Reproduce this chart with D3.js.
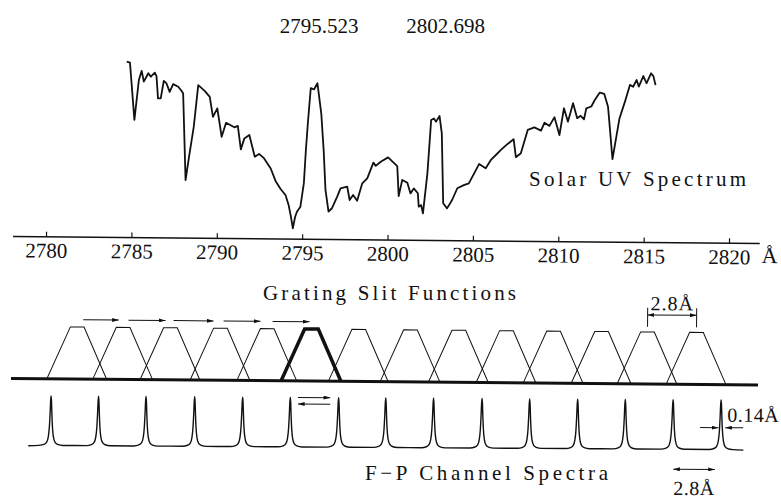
<!DOCTYPE html>
<html>
<head>
<meta charset="utf-8">
<script src="https://cdn.jsdelivr.net/npm/d3@7"></script>
<style>
body { margin: 0; background: #fff; }
text { font-family: "Liberation Serif", "Times New Roman", serif; fill: #111; }
</style>
</head>
<body>
<script>
var w = 781;
var h = 498;

// Solar UV spectrum (wavelength in Angstrom, relative flux)
var specWave = [2784.63,2784.82,2785.11,2785.35,2785.51,2785.64,2785.90,2786.05,2786.28,2786.38,2786.48,2786.64,2786.81,2786.97,2787.16,2787.36,2787.66,2787.85,2787.95,2788.14,
  2788.33,2788.59,2788.83,2789.21,2789.51,2789.71,2789.96,2790.23,2790.48,2790.97,2791.17,2791.36,2791.56,2791.85,2792.18,2792.43,2792.73,2793.12,2793.41,2793.71,
  2794.00,2794.19,2794.33,2794.45,2794.58,2794.68,2794.88,2795.07,2795.17,2795.27,2795.42,2795.62,2795.81,2796.05,2796.21,2796.34,2796.53,2796.73,2797.03,2797.22,
  2797.61,2797.76,2797.96,2798.20,2798.49,2798.78,2799.13,2799.27,2799.56,2799.99,2800.53,2800.63,2800.83,2801.13,2801.32,2801.51,2801.75,2801.81,2801.95,2802.06,
  2802.30,2802.49,2802.65,2802.78,2802.98,2803.12,2803.24,2803.47,2803.76,2804.06,2804.44,2804.73,2805.32,2805.71,2806.01,2806.30,2806.59,2806.98,2807.33,2807.47,
  2807.76,2808.15,2808.54,2808.93,2809.13,2809.42,2809.71,2810.01,2810.26,2810.50,2810.79,2811.04,2811.24,2811.44,2811.57,2811.86,2812.06,2812.35,2812.61,2812.84,
  2813.13,2813.52,2813.81,2814.11,2814.30,2814.50,2814.63,2814.89,2815.08,2815.34,2815.48,2815.61];
var specFlux = [87.9,87.4,58.8,78.8,83.4,78.0,82.2,80.5,82.5,80.8,69.7,69.7,78.5,77.2,73.0,76.9,75.6,73.6,72.3,29.0,
  40.6,55.6,76.5,73.7,70.7,60.7,65.0,50.8,57.8,55.6,56.3,44.6,50.1,51.8,41.0,42.4,40.2,35.2,29.0,25.0,
  22.0,17.0,11.2,5.4,11.2,13.7,16.2,28.0,44.6,58.0,75.5,75.0,78.0,63.0,44.7,24.7,13.9,15.6,21.4,25.6,
  26.5,19.8,22.3,19.5,28.2,30.7,38.6,37.0,39.1,41.3,37.0,22.0,30.1,28.7,23.4,25.9,23.5,16.8,17.6,13.5,
  33.5,60.2,61.0,59.4,62.2,53.6,18.6,16.1,20.3,26.2,27.8,28.7,38.4,36.3,40.5,43.0,45.6,48.6,51.0,42.0,
  44.0,55.7,57.0,55.4,59.4,57.8,62.2,53.3,66.7,60.0,69.3,61.8,63.0,61.3,66.8,67.7,71.0,74.7,74.1,67.7,
  41.5,62.0,69.8,78.7,77.8,81.2,77.9,83.2,79.6,84.6,83.2,78.7];

var axisTicks = [2780, 2785, 2790, 2795, 2800, 2805, 2810, 2815, 2820];
var lineLabels = ["2795.523", "2802.698"];
var lineWaves = [2795.523, 2802.698];

// grating slit function centres, the highlighted one is index 5
var slitCentres = [2781.80, 2784.49, 2787.26, 2790.19, 2792.93, 2795.52, 2798.29, 2801.32,
  2804.15, 2806.94, 2809.70, 2812.51, 2815.20, 2818.07];
var slitActive = 5;
var slitBase = 1.75, slitTop = 0.4;   // half widths in A
var slitArrows = [[2782.15, 2784.23], [2784.80, 2786.97], [2787.44, 2789.78], [2790.37, 2792.53], [2793.24, 2795.40]];

// Fabry-Perot channel peaks
var fpPeaks = [2780.28, 2783.06, 2785.84, 2788.69, 2791.50, 2794.29, 2797.12, 2799.88,
  2802.68, 2805.52, 2808.31, 2811.12, 2813.91, 2816.71, 2819.52];
var fpProfileDx = [-0.7, -0.4, -0.25, -0.15, -0.09, -0.05, -0.025, 0, 0.025, 0.05, 0.09, 0.15, 0.25, 0.4, 0.7];
var fpProfileY  = [0.01, 0.03, 0.07, 0.18, 0.38, 0.67, 0.9, 1, 0.9, 0.67, 0.38, 0.18, 0.07, 0.03, 0.01];

var serif = '"Liberation Serif", "Times New Roman", serif';

var svg = d3.select("body").append("svg")
    .attr("width", w)
    .attr("height", h);

var defs = svg.append("defs");
defs.append("marker")
    .attr("id", "arr")
    .attr("viewBox", "0 0 10 6")
    .attr("refX", 10).attr("refY", 3)
    .attr("markerWidth", 7).attr("markerHeight", 4)
    .attr("markerUnits", "userSpaceOnUse")
    .attr("orient", "auto-start-reverse")
    .append("path").attr("d", "M0,0L10,3L0,6z").attr("fill", "#111");

var x = d3.scaleLinear().domain([2780, 2820]).range([46, 729]);

// ---------- top: solar spectrum ----------
var ySpec = d3.scaleLinear().domain([0, 100]).range([240, 40]);
var gTop = svg.append("g").attr("transform", "rotate(0.55, 390, 240)");

var specLine = d3.line()
    .x(d => x(d[0]))
    .y(d => ySpec(d[1]));

gTop.append("path")
    .datum(d3.zip(specWave, specFlux))
    .attr("d", specLine)
    .attr("fill", "none")
    .attr("stroke", "#111")
    .attr("stroke-width", 1.8)
    .attr("stroke-linejoin", "round");

var xAxis = d3.axisBottom(x)
    .tickValues(axisTicks)
    .tickFormat(d3.format("d"))
    .tickSizeInner(-5)
    .tickSizeOuter(0)
    .tickPadding(6);

var gAxis = gTop.append("g")
    .attr("transform", "translate(0,240)")
    .call(xAxis)
    .attr("font-family", serif)
    .attr("font-size", 21);
gAxis.select(".domain").remove();
gAxis.selectAll(".tick line").attr("stroke", "#111").attr("stroke-width", 1.2);
gAxis.selectAll(".tick text")
    .style("font-family", serif)
    .style("font-size", "21px")
    .attr("fill", "#111");
gAxis.append("line")
    .attr("x1", x(2778.07)).attr("x2", x(2821.8))
    .attr("stroke", "#111").attr("stroke-width", 1.5);
gAxis.append("text")
    .attr("x", x(2821.8) + 2).attr("y", 19.5)
    .attr("text-anchor", "start")
    .style("font-size", "22px")
    .text("Å");

svg.selectAll(".linelabel")
    .data(lineLabels)
    .enter().append("text")
    .attr("class", "linelabel")
    .attr("x", (d, i) => x(lineWaves[i]) + (i === 0 ? 8 : 12))
    .attr("y", 33)
    .attr("text-anchor", "middle")
    .style("font-size", "21px")
    .text(d => d);

svg.append("text")
    .attr("x", 529).attr("y", 186)
    .attr("textLength", 217).attr("lengthAdjust", "spacing")
    .style("font-size", "21px")
    .text("Solar UV Spectrum");

// ---------- middle: grating slit functions ----------
var yG = d3.scaleLinear().domain([0, 1]).range([381.7, 329.7]);
var gMid = svg.append("g").attr("transform", "rotate(0.5, 390, 381.7)");

var trap = d3.line().x(d => x(d[0])).y(d => yG(d[1]));
function trapPts(c) {
    return [[c - slitBase, 0], [c - slitTop, 1], [c + slitTop, 1], [c + slitBase, 0]];
}

gMid.selectAll(".slit")
    .data(slitCentres)
    .enter().append("path")
    .attr("class", "slit")
    .attr("d", d => trap(trapPts(d)))
    .attr("fill", "none")
    .attr("stroke", "#111")
    .attr("stroke-width", (d, i) => i === slitActive ? 3.5 : 1)
    .attr("stroke-linejoin", "miter");

gMid.append("line")
    .attr("x1", x(2777.95)).attr("x2", x(2821.7))
    .attr("y1", yG(0)).attr("y2", yG(0))
    .attr("stroke", "#111").attr("stroke-width", 3);

gMid.selectAll(".sarrow")
    .data(slitArrows)
    .enter().append("line")
    .attr("class", "sarrow")
    .attr("x1", d => x(d[0])).attr("x2", d => x(d[1]))
    .attr("y1", yG(1.14)).attr("y2", yG(1.14))
    .attr("stroke", "#111").attr("stroke-width", 1)
    .attr("marker-end", "url(#arr)");

// 2.8 A spacing marker
var c1 = slitCentres[12], c2 = slitCentres[13];
[c1, c2].forEach(function (c) {
    gMid.append("line")
        .attr("x1", x(c)).attr("x2", x(c))
        .attr("y1", yG(1.10)).attr("y2", yG(1.465))
        .attr("stroke", "#111").attr("stroke-width", 1);
});
gMid.append("line")
    .attr("x1", x(c1)).attr("x2", x(c2))
    .attr("y1", yG(1.327)).attr("y2", yG(1.327))
    .attr("stroke", "#111").attr("stroke-width", 1)
    .attr("marker-start", "url(#arr)").attr("marker-end", "url(#arr)");
gMid.append("text")
    .attr("x", (x(c1) + x(c2)) / 2).attr("y", yG(1.42))
    .attr("text-anchor", "middle")
    .style("font-size", "20px").style("letter-spacing", "1px")
    .text("2.8Å");

svg.append("text")
    .attr("x", 263).attr("y", 300)
    .attr("textLength", 253).attr("lengthAdjust", "spacing")
    .style("font-size", "21px")
    .text("Grating Slit Functions");

// ---------- bottom: F-P channel spectra ----------
var yF = d3.scaleLinear().domain([0, 1]).range([448, 398]);
var gBot = svg.append("g").attr("transform", "rotate(0.35, 390, 448)");

var fpPts = [[2778.96, 0]];
fpPeaks.forEach(function (p) {
    fpProfileDx.forEach(function (dx, k) {
        fpPts.push([p + dx, fpProfileY[k]]);
    });
});
fpPts.push([2820.84, 0]);

gBot.append("path")
    .datum(fpPts)
    .attr("d", d3.line().x(d => x(d[0])).y(d => yF(d[1])).curve(d3.curveMonotoneX))
    .attr("fill", "none")
    .attr("stroke", "#111")
    .attr("stroke-width", 1.4);

// scan direction arrows between channels 6 and 7
gBot.append("line")
    .attr("x1", x(2794.74)).attr("x2", x(2796.63))
    .attr("y1", yF(1.0)).attr("y2", yF(1.0))
    .attr("stroke", "#111").attr("stroke-width", 1)
    .attr("marker-end", "url(#arr)");
gBot.append("line")
    .attr("x1", x(2796.63)).attr("x2", x(2794.74))
    .attr("y1", yF(0.87)).attr("y2", yF(0.87))
    .attr("stroke", "#111").attr("stroke-width", 1)
    .attr("marker-end", "url(#arr)");

// 0.14 A width marker
gBot.append("line")
    .attr("x1", x(2818.30)).attr("x2", x(2819.37))
    .attr("y1", yF(0.446)).attr("y2", yF(0.446))
    .attr("stroke", "#111").attr("stroke-width", 1)
    .attr("marker-end", "url(#arr)");
gBot.append("line")
    .attr("x1", x(2820.82)).attr("x2", x(2819.77))
    .attr("y1", yF(0.446)).attr("y2", yF(0.446))
    .attr("stroke", "#111").attr("stroke-width", 1)
    .attr("marker-end", "url(#arr)");
gBot.append("text")
    .attr("x", x(2819.77) + 2).attr("y", yF(0.566))
    .style("font-size", "20px").style("letter-spacing", "0.5px")
    .text("0.14Å");

// 2.8 A free spectral range marker
gBot.append("line")
    .attr("x1", x(2816.74)).attr("x2", x(2819.18))
    .attr("y1", yF(-0.39)).attr("y2", yF(-0.39))
    .attr("stroke", "#111").attr("stroke-width", 1)
    .attr("marker-start", "url(#arr)").attr("marker-end", "url(#arr)");
gBot.append("text")
    .attr("x", (x(2816.74) + x(2819.18)) / 2).attr("y", yF(-0.904))
    .attr("text-anchor", "middle")
    .style("font-size", "20px").style("letter-spacing", "0.5px")
    .text("2.8Å");

svg.append("text")
    .attr("x", 365).attr("y", 480)
    .attr("textLength", 243).attr("lengthAdjust", "spacing")
    .style("font-size", "21px")
    .text("F−P Channel Spectra");
</script>
</body>
</html>
